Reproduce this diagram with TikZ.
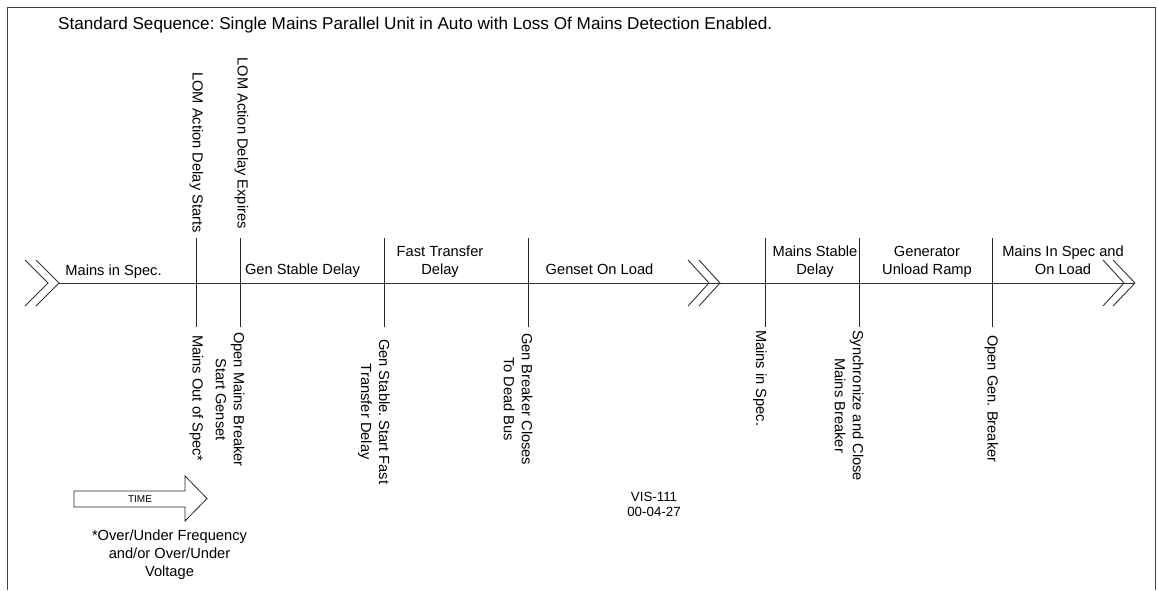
\documentclass[tikz,border=0pt]{standalone}
\usepackage{fontspec}
\setmainfont{Liberation Sans}
\frenchspacing
\tikzset{
  lbl/.style={font=\fontsize{14.67}{18}\selectfont\frenchspacing, inner sep=2pt, align=center, text=black},
  vlbl/.style={lbl, rotate=-90},
  markerline/.style={draw=black!85, line width=1pt},
  chev/.style={draw=black!80, line width=0.9pt},
  frameline/.style={draw=black!75, line width=1.5pt},
}
\begin{document}
\begin{tikzpicture}[x=1pt,y=-1pt]
\useasboundingbox (0,0) rectangle (1158,590);
% frame (open at the bottom)
\draw[frameline] (7.5,590) -- (7.5,7.5) -- (1155.5,7.5) -- (1155.5,590);
% title
\node[lbl, font=\fontsize{17.15}{20}\selectfont\frenchspacing, anchor=base west, inner sep=0pt] (title) at (58,29)
  {Standard Sequence: Single Mains Parallel Unit in Auto with Loss Of Mains Detection Enabled.};
% main time line
\coordinate (Lstart) at (59,283);
\coordinate (Lend) at (1135,283);
\draw[chev] (Lstart) -- (Lend);
% chevrons
\draw[chev] (25,260) -- (48,283) -- (25,306);
\draw[chev] (36,260) -- (59,283) -- (36,306);
\draw[chev] (688,260) -- (709,283) -- (688,306);
\draw[chev] (699,260) -- (720,283) -- (699,306);
\draw[chev] (1103,260) -- (1124,283) -- (1103,306);
\draw[chev] (1113,260) -- (1135,283) -- (1113,306);
% event markers
\foreach \n/\x in {m1/196.5, m2/240.5, m3/384, m4/528, m5/765, m6/859, m7/992}{
  \coordinate (\n t) at (\x,238);
  \coordinate (\n b) at (\x,327);
  \draw[markerline] (\n t) -- (\n b);
}
% labels above markers
\node[vlbl, anchor=east] (t1) at (196.5,235) {LOM Action Delay Starts};
\node[vlbl, anchor=east] (t2) at (241.5,231) {LOM Action Delay Expires};
% labels below markers
\node[vlbl, anchor=west] (b1) at (196.5,333) {Mains Out of Spec*};
\node[vlbl, anchor=west] (b2) at (230,330) {Open Mains Breaker\\Start Genset};
\node[vlbl, anchor=west] (b3) at (374,337) {Gen Stable. Start Fast\\Transfer Delay};
\node[vlbl, anchor=west] (b4) at (518,331) {Gen Breaker Closes\\To Dead Bus};
\node[vlbl, anchor=west] (b5) at (760,328) {Mains in Spec.};
\node[vlbl, anchor=west] (b6) at (849,328) {Synchronize and Close\\Mains Breaker};
\node[vlbl, anchor=west] (b7) at (991.5,333) {Open Gen. Breaker};
% interval labels on the time line
\node[lbl, anchor=base] (h1) at (113.5,275) {Mains in Spec.};
\node[lbl, anchor=base] (h2) at (302.5,274.5) {Gen Stable Delay};
\node[lbl, anchor=base] (h3) at (440,274.5) {Fast Transfer\\Delay};
\node[lbl, anchor=base] (h4) at (599.5,274.5) {Genset On Load};
\node[lbl, anchor=base] (h5) at (815,274.5) {Mains Stable\\Delay};
\node[lbl, anchor=base] (h6) at (927,274.5) {Generator\\Unload Ramp};
\node[lbl, anchor=base] (h7) at (1063,274.5) {Mains In Spec and\\On Load};
% time arrow
\draw[draw=black!85, line width=0.8pt, fill=white]
  (74,491) -- (185,491) -- (185,476) -- (207,498.5) -- (185,521) -- (185,507) -- (74,507) -- cycle;
\node[font=\fontsize{10}{12}\selectfont, inner sep=0pt] (time) at (140,499) {TIME};
% footnote
\node[lbl] (note) at (169.5,555) {*Over/Under Frequency\\and/or Over/Under\\Voltage};
% drawing id
\node[font=\fontsize{13.33}{15}\selectfont, align=center, inner sep=0pt] (vis) at (654,504.5) {VIS-111\\00-04-27};
\end{tikzpicture}
\end{document}
